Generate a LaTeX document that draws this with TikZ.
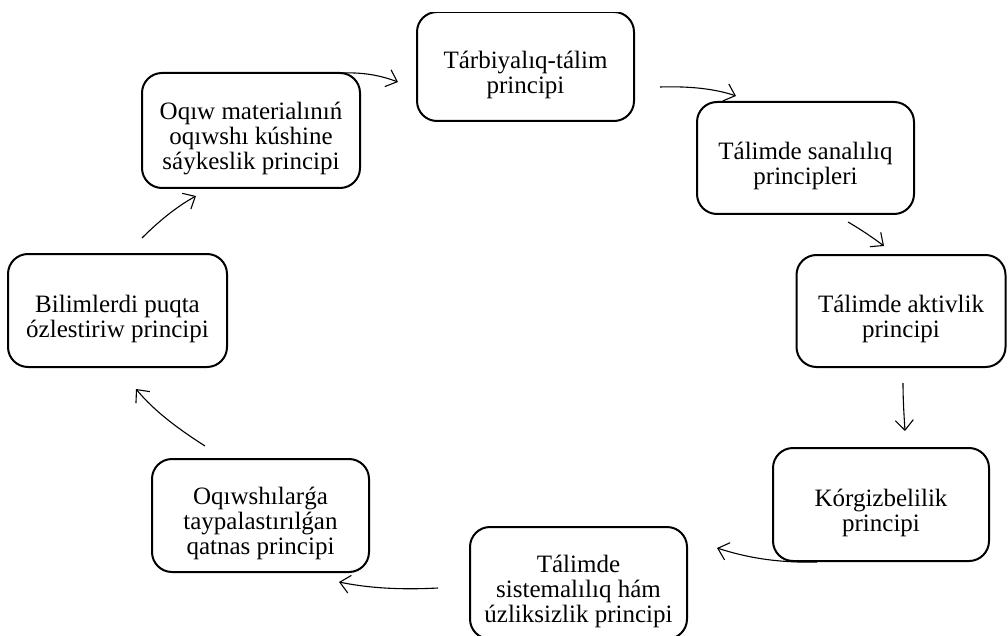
\documentclass[tikz,border=0pt]{standalone}
\usepackage{fontspec}
\setmainfont{Liberation Serif}
\usetikzlibrary{arrows.meta}
\newcommand{\lowr}{\rule{0pt}{34pt}}
\begin{document}
\begin{tikzpicture}[x=1pt,y=-1pt,
  pbox/.style={draw, line width=2pt, rounded corners=20pt, align=center, inner sep=0pt,
    font=\fontsize{25}{25}\selectfont},
  conn/.style={line width=1.1pt, -{Straight Barb[length=10pt,width=18pt,line width=1.1pt]}}]
\useasboundingbox (0,0) rectangle (1008,636);
\fill[white] (0,0) rectangle (1008,636);
\begin{scope}
\clip (0,12.6) rectangle (1008,636);
\node[pbox, minimum width=217pt, minimum height=109pt] (t) at (525.5,66.5) {\lowr Tárbiyalıq-tálim\\principi};
\end{scope}
\node[pbox, minimum width=218pt, minimum height=115pt] (o) at (251,130.5) {\lowr Oqıw materialınıń\\oqıwshı kúshine\\sáykeslik principi};
\node[pbox, minimum width=217pt, minimum height=112pt] (s) at (805.5,158) {\lowr Tálimde sanalılıq\\principleri};
\node[pbox, minimum width=209pt, minimum height=112pt] (a) at (901,311) {\lowr Tálimde aktivlik\\principi};
\node[pbox, minimum width=216pt, minimum height=113pt] (k) at (881,504.5) {\lowr Kórgizbelilik\\principi};
\node[pbox, minimum width=217pt, minimum height=112pt] (u) at (578.5,583) {\lowr Tálimde\\sistemalılıq hám\\úzliksizlik principi};
\node[pbox, minimum width=217pt, minimum height=113pt] (q) at (260.5,515.5) {\lowr Oqıwshılarǵa\\taypalastırılǵan\\qatnas principi};
\node[pbox, minimum width=219pt, minimum height=113pt] (b) at (117.5,310.5) {\lowr Bilimlerdi puqta\\ózlestiriw principi};
% arrow end points
\coordinate (a1) at (340,73);   \coordinate (a2) at (398,82);
\coordinate (b1) at (660,87);   \coordinate (b2) at (736,96);
\coordinate (c1) at (848,222);  \coordinate (c2) at (884,246);
\coordinate (d1) at (903,383);  \coordinate (d2) at (905,431);
\coordinate (e1) at (817,562);  \coordinate (e2) at (717,548);
\coordinate (f1) at (438,588);  \coordinate (f2) at (339,582);
\coordinate (g1) at (205,446);  \coordinate (g2) at (136,389);
\coordinate (h1) at (142,238);  \coordinate (h2) at (196,196);
\draw[conn] (a1) .. controls (365,72) and (382,76) .. (a2);
\draw[conn] (b1) .. controls (690,86) and (716,89) .. (b2);
\draw[conn] (c1) .. controls (860,229) and (872,237) .. (c2);
\draw[conn] (d1) .. controls (903,400) and (904,415) .. (d2);
\draw[conn] (e1) .. controls (775,563) and (745,557) .. (e2);
\draw[conn] (f1) .. controls (400,590) and (368,588) .. (f2);
\draw[conn] (g1) .. controls (180,430) and (155,412) .. (g2);
\draw[conn] (h1) .. controls (158,222) and (176,207) .. (h2);
\end{tikzpicture}
\end{document}
